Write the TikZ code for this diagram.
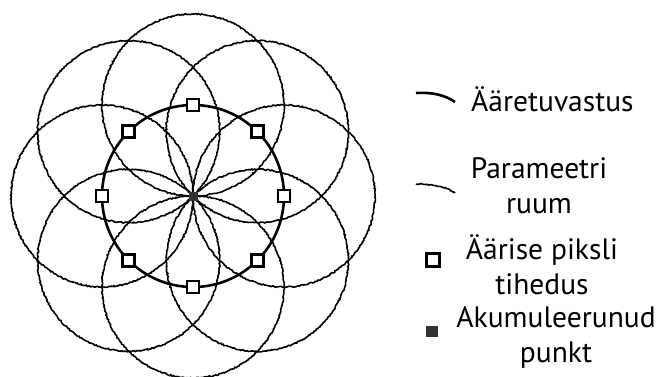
\documentclass[tikz,border=0pt]{standalone}
\usepackage{fontspec}
\setmainfont{PT Sans}
\usetikzlibrary{positioning, decorations.pathmorphing}

\begin{document}
\begin{tikzpicture}[x=1pt,y=-1pt,
  edge line/.style={line width=2.6pt},
  param line/.style={line width=1.6pt, black, decorate,
    decoration={random steps, segment length=1.4pt, amplitude=0.6pt}},
  pixel/.style={draw, line width=2.6pt, fill=white, minimum size=12pt, inner sep=0pt},
  acc point/.style={fill=black!80, minimum size=9pt, inner sep=0pt},
  legend text/.style={font=\fontsize{29.5}{35}\selectfont, align=center, inner sep=0pt}]
  \useasboundingbox (0,0) rectangle (663,376);
  \coordinate (acc c) at (193,196);
  % edge pixels on the detected edge, one parameter circle round each
  \foreach \i in {1,...,8}
    \path (acc c) ++({(\i-1)*45}:91) coordinate (e\i);
  \foreach \i in {1,...,8}
    \draw[param line] (e\i) circle (91);
  \draw[edge line] (acc c) circle (91);
  \foreach \i in {1,...,8}
    \node[pixel] (p\i) at (e\i) {};
  \node[acc point] (acc) at (acc c) {};

  % legend
  \node[legend text, anchor=west] (t edge) at (471,99) {Ääretuvastus};
  \node[legend text] (t param) at (539,186) {Parameetri\\ruum};
  \node[legend text] (t pixel) at (542,265) {Äärise piksli\\tihedus};
  \node[legend text] (t acc) at (556,337) {Akumuleerunud\\punkt};
  \draw[edge line] (416,93) .. controls (432,92) and (445,95) .. (455,102);
  \draw[param line] (416,184) .. controls (432,184) and (445,186) .. (455,193);
  \node[pixel, minimum size=13pt] (k pixel) at (433,260) {};
  \node[acc point, minimum width=12pt, minimum height=11pt] (k acc) at (432,331) {};
\end{tikzpicture}
\end{document}
